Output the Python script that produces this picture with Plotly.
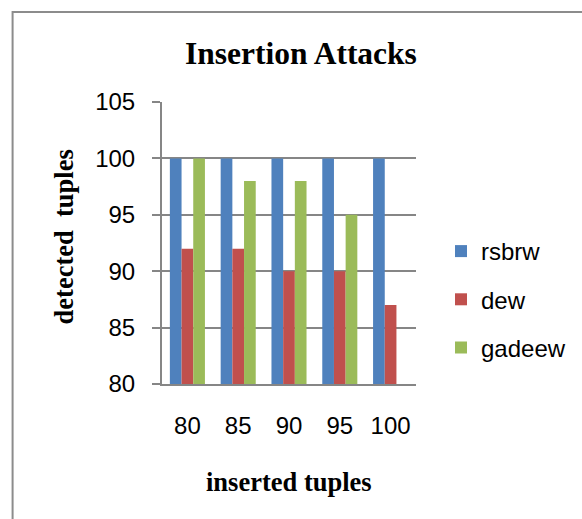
import plotly.graph_objects as go

categories = ["80", "85", "90", "95", "100"]
rsbrw = [100, 100, 100, 100, 100]
dew = [92, 92, 90, 90, 87]
gadeew = [100, 98, 98, 95, None]
series_names = ["rsbrw", "dew", "gadeew"]
colors = ["#4F81BD", "#C0504D", "#9BBB59"]
y_ticks = [80, 85, 90, 95, 100, 105]

W, H = 582, 519
L, R, T, B = 162, 417, 102, 384  # plot area in px


def px_x(p):
    return (p - L) / (R - L)


def px_y(p):
    return (B - p) / (B - T)


fig = go.Figure()
for name, vals, col in zip(series_names, [rsbrw, dew, gadeew], colors):
    fig.add_trace(go.Bar(x=categories, y=vals, name=name, marker_color=col,
                         marker_line_width=0, legendgroup=name))

grid_col = "#868686"
sans = "Liberation Sans, Arial"
fig.update_layout(
    width=W, height=H,
    margin=dict(l=L, r=W - R, t=T, b=H - B, pad=0),
    paper_bgcolor="white", plot_bgcolor="white",
    barmode="group", bargap=0.31, bargroupgap=0,
    showlegend=True,
    legend=dict(x=px_x(441), y=px_y(229), xanchor="left", yanchor="top",
                font=dict(family=sans, size=24, color="black"),
                tracegroupgap=14, bgcolor="rgba(0,0,0,0)"),
    xaxis=dict(type="category", showline=True, linecolor=grid_col, linewidth=2,
               ticks="", showgrid=False,
               tickfont=dict(family=sans, size=24, color="black"),
               ticklabelstandoff=19),
    yaxis=dict(range=[80, 105], tickvals=y_ticks, showline=True, linecolor=grid_col,
               linewidth=2, ticks="outside", ticklen=8, tickcolor=grid_col, tickwidth=2,
               showgrid=True, gridcolor=grid_col, gridwidth=2, zeroline=False,
               tickfont=dict(family=sans, size=24, color="black"),
               ticklabelstandoff=12),
)

serif = "Liberation Serif, Times New Roman, serif"
fig.add_annotation(text="<b>Insertion Attacks</b>", xref="paper", yref="paper",
                   x=px_x(302), y=px_y(53), xanchor="center", yanchor="middle",
                   showarrow=False, font=dict(family=serif, size=31.5, color="black"))
fig.add_annotation(text="<b>inserted tuples</b>", xref="paper", yref="paper",
                   x=px_x(289.5), y=px_y(482), xanchor="center", yanchor="middle",
                   showarrow=False, font=dict(family=serif, size=26.5, color="black"))
fig.add_annotation(text="<b>detected&nbsp; tuples</b>", xref="paper", yref="paper",
                   x=px_x(64), y=px_y(237), xanchor="center", yanchor="middle",
                   showarrow=False, textangle=-90,
                   font=dict(family=serif, size=26.5, color="black"))

# outer chart frame
fig.add_shape(type="rect", xref="paper", yref="paper",
              x0=px_x(12), y0=px_y(540), x1=px_x(600), y1=px_y(12),
              line=dict(color="#8C8C8C", width=2), fillcolor="rgba(0,0,0,0)", layer="below")

fig.write_html("out.html")
